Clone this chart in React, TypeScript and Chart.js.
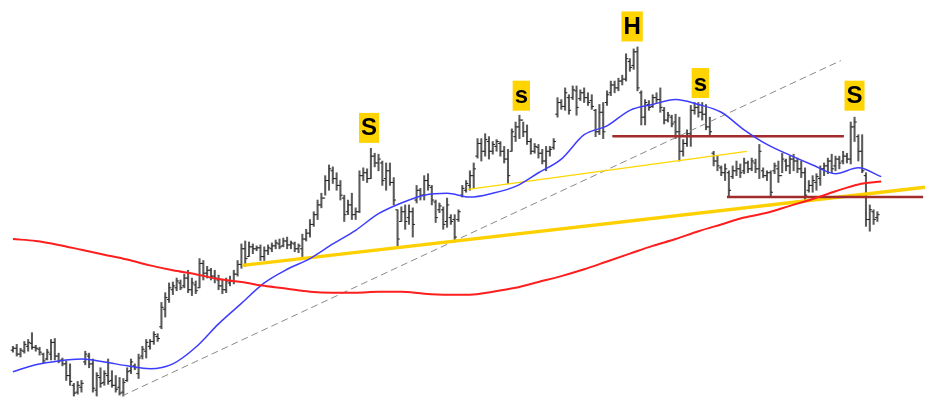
import React, { useEffect, useRef } from 'react';
import { Chart, registerables } from 'chart.js';
Chart.register(...registerables);

// OHLC price bars (one per session)
const high = [
  50,52,48,55,57,64,51,49,43,47,
  57,58,43,38,35,32,12,14,15,45,
  43,37,23,28,25,37,25,20,18,17,
  28,37,32,42,50,57,57,65,63,95,
  105,115,116,120,118,124,128,120,117,140,
  138,132,130,128,123,118,120,122,128,138,
  155,158,157,155,153,154,152,154,156,159,
  160,161,162,158,157,155,165,170,180,188,
  200,207,225,236,234,228,220,205,200,207,
  192,230,233,232,253,248,247,240,238,238,
  223,190,193,195,195,192,215,212,225,227,
  215,200,197,193,202,185,185,190,215,220,
  230,238,263,263,268,265,260,262,260,255,
  252,273,280,287,280,277,263,258,257,252,
  255,255,263,305,303,315,308,317,317,313,
  315,310,308,293,298,300,312,322,322,325,
  328,350,345,355,357,312,303,302,308,310,
  315,295,290,287,288,285,262,272,297,300,
  300,300,298,285,250,245,235,237,230,235,
  240,237,243,240,243,242,257,233,230,230,
  238,240,248,242,245,247,243,240,233,220,
  225,227,235,238,243,247,245,245,250,248,
  280,285,267,267,228,195,190,188,
];
const low = [
  44,40,39,43,45,47,45,41,33,36,
  36,36,33,30,15,10,-1,1,3,31,
  28,3,-1,8,10,11,8,3,0,-1,
  14,22,26,17,37,38,47,52,55,68,
  80,95,103,107,108,110,105,102,104,110,
  118,120,118,115,108,104,105,112,114,122,
  130,132,142,145,148,138,138,144,147,150,
  150,152,150,150,147,146,142,158,162,173,
  180,192,205,210,217,210,200,178,185,180,
  180,187,220,218,222,234,230,215,210,215,
  195,153,178,170,175,162,197,200,200,210,
  195,177,187,170,172,175,157,178,203,208,
  210,212,243,240,245,242,247,250,245,238,
  217,250,260,263,265,257,247,248,243,237,
  230,245,252,285,293,292,288,303,287,302,
  300,297,293,265,267,263,297,307,310,312,
  318,322,332,334,312,277,277,292,295,300,
  290,278,280,275,263,240,245,255,255,288,
  285,282,272,265,235,230,225,220,203,222,
  225,223,227,228,230,228,222,223,220,203,
  227,218,228,230,227,230,228,223,200,208,
  208,210,215,225,227,228,230,232,237,238,
  237,260,240,228,173,168,175,178,
];
const open = [
  46,48,42,45,50,53,49,47,42,37,
  42,54,40,36,32,20,10,3,8,34,
  40,32,5,18,13,20,15,10,8,3,
  15,25,30,22,40,45,50,55,60,70,
  88,98,108,110,115,112,120,108,113,110,
  135,125,128,122,118,112,108,115,117,124,
  134,150,142,152,150,151,142,148,150,153,
  155,153,158,154,155,150,150,160,166,175,
  185,195,202,220,230,222,215,202,188,195,
  185,188,225,228,222,245,238,238,222,230,
  218,190,178,188,182,188,200,210,205,220,
  213,198,190,190,178,182,180,180,205,210,
  215,225,245,258,250,260,250,255,258,250,
  242,250,265,275,282,270,260,250,254,248,
  240,250,254,288,300,296,305,305,312,304,
  310,305,302,292,270,290,300,310,318,315,
  322,324,342,338,352,310,285,298,296,305,
  303,292,282,285,280,270,250,258,268,292,
  295,290,288,275,248,240,233,228,228,224,
  230,232,230,238,232,238,232,230,225,228,
  230,232,225,240,235,242,240,232,228,210,
  215,218,222,232,235,240,235,242,240,245,
  242,275,265,250,225,180,188,182,
];
const close = [
  48,42,46,52,54,49,48,44,35,44,
  54,40,35,32,20,14,2,10,12,42,
  32,7,20,12,22,14,10,6,2,13,
  24,34,28,38,47,54,55,62,58,90,
  100,110,112,117,110,120,108,115,107,135,
  125,128,122,120,112,108,117,117,124,134,
  150,140,152,150,151,142,148,151,153,156,
  152,158,154,156,150,153,160,166,175,185,
  195,202,220,232,222,215,205,185,195,185,
  188,225,228,222,245,238,242,220,230,218,
  200,160,188,178,188,175,210,205,220,215,
  200,182,194,175,195,178,162,188,212,217,
  225,232,258,250,262,250,257,260,250,242,
  225,270,275,282,270,260,250,255,248,240,
  250,252,260,300,296,310,292,313,295,310,
  305,300,296,270,290,270,308,318,315,322,
  324,345,336,352,315,285,300,295,305,303,
  295,282,287,278,270,250,258,268,292,295,
  290,288,275,270,240,235,228,232,210,230,
  232,228,238,232,240,232,250,225,228,208,
  235,225,242,235,242,240,232,228,205,215,
  220,224,232,235,240,232,242,238,245,242,
  275,280,250,230,180,190,180,185,
];

// moving averages, sampled every MA_STEP bars
const MA_STEP = 6;
const fastMA = [24,31,35,37,34,30,27,32,49,73,94,115,129,140,155,169,186,197,205,207,203,207,214,228,242,267,276,292,298,303,298,290,272,257,246,236,227,233,224];
const slowMA = [160,158,154,149,144,139,133,128,124,119,116,112,109,106,105,105,106,106,104,103,103,106,110,116,122,129,137,145,153,160,168,175,182,187,194,201,209,216,219];

// trend lines: [bar1, price1, bar2, price2]
const dashedTrend = [28.6, -1, 217.4, 343];
const supportTrend = [60.3, 133, 239.5, 213];
const upperTrend = [119.5, 211, 192.7, 250];
const neckTop = [157.4, 265.5, 218.2, 265.5];
const neckBottom = [187.5, 203, 239, 203];

// pattern labels
const labelText = ['S', 's', 'H', 's', 'S'];
const labelBar = [93.5, 133.5, 162.6, 180.5, 221];
const labelPrice = [274, 307, 378, 320, 307];

const X_MIN = -2.08;
const X_MAX = 239.5;
const Y_MIN = -3;
const Y_MAX = 400;

export default function App() {
  const ref = useRef<HTMLCanvasElement>(null);
  useEffect(() => {
    const canvas = ref.current;
    if (!canvas) return;
    const bars = high.map((h, i) => ({ x: i, y: [low[i], h] }));
    const opens = open.map((v, i) => ({ x: i - 0.3, y: v }));
    const closes = close.map((v, i) => ({ x: i + 0.3, y: v }));
    const fast = fastMA.map((v, k) => ({ x: k * MA_STEP, y: v }));
    const slow = slowMA.map((v, k) => ({ x: k * MA_STEP, y: v }));
    const seg = (p: number[]) => [{ x: p[0], y: p[1] }, { x: p[2], y: p[3] }];
    const lineDs = (data: any, color: string, width: number, order: number, extra: any = {}) => ({
      type: 'line', data, borderColor: color, borderWidth: width, pointRadius: 0, fill: false, order, ...extra,
    });
    const labelPlugin = {
      id: 'patternLabels',
      afterDatasetsDraw(chart: any) {
        const { ctx, scales } = chart;
        ctx.save();
        ctx.font = 'bold 24px "Liberation Sans", Arial, sans-serif';
        ctx.textAlign = 'center';
        ctx.textBaseline = 'middle';
        labelText.forEach((t, k) => {
          const px = scales.x.getPixelForValue(labelBar[k]);
          const py = scales.y.getPixelForValue(labelPrice[k]);
          const w = ctx.measureText(t).width + 4;
          ctx.fillStyle = '#FFD400';
          ctx.fillRect(px - w / 2, py - 15, w, 30);
          ctx.fillStyle = '#000';
          ctx.fillText(t, px, py + 1);
        });
        ctx.restore();
      },
    };
    const tickDs = (data: any) => ({
      type: 'line', data, showLine: false, pointStyle: 'line', pointRadius: 1.1,
      pointBorderColor: '#222', pointBorderWidth: 1, pointBackgroundColor: '#222', order: 19,
    });
    const chart = new Chart(canvas, {
      type: 'bar',
      data: {
        datasets: [
          lineDs(seg(neckTop), '#a22b2b', 2.5, 2),
          lineDs(seg(neckBottom), '#a22b2b', 2.5, 2),
          lineDs(seg(supportTrend), '#FFD000', 3.5, 3),
          lineDs(seg(upperTrend), '#FFD700', 1.3, 3),
          lineDs(seg(dashedTrend), '#8a8a8a', 1, 4, { borderDash: [7, 4] }),
          lineDs(slow, '#ff1e1e', 2, 1, { cubicInterpolationMode: 'monotone' }),
          lineDs(fast, '#3c3cff', 1.5, 1, { cubicInterpolationMode: 'monotone' }),
          { type: 'bar', data: bars, backgroundColor: '#5a5a5a', barThickness: 1.4, order: 20 },
          tickDs(opens),
          tickDs(closes),
        ] as any,
      },
      options: {
        animation: false,
        responsive: true,
        maintainAspectRatio: false,
        events: [],
        layout: { padding: 0 },
        plugins: { legend: { display: false }, tooltip: { enabled: false }, title: { display: false } },
        scales: {
          x: { type: 'linear', display: false, min: X_MIN, max: X_MAX, offset: false },
          y: { type: 'linear', display: false, min: Y_MIN, max: Y_MAX, beginAtZero: false },
        },
      } as any,
      plugins: [labelPlugin],
    });
    return () => chart.destroy();
  }, []);
  return (
    <div style={{ position: 'fixed', left: 0, top: 0, width: 930, height: 403, background: '#fff' }}>
      <canvas ref={ref} />
    </div>
  );
}
